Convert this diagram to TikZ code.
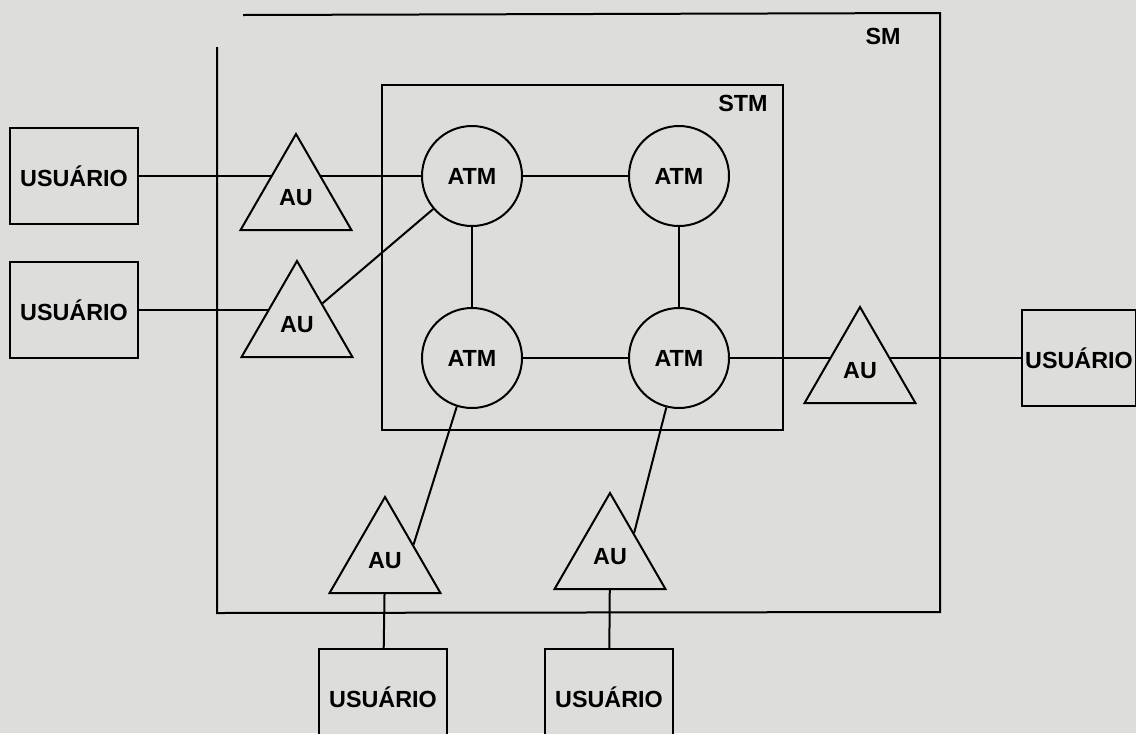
\documentclass[tikz,border=0pt]{standalone}
\usepackage{fontspec}
\setmainfont{Liberation Sans}
\usetikzlibrary{shapes.geometric, backgrounds}

\definecolor{papel}{RGB}{221,221,219}

\begin{document}
\begin{tikzpicture}[x=0.75pt, y=-0.75pt, line width=1.5pt,
    every node/.style={font=\fontsize{17.5}{20}\selectfont\bfseries},
    every on background layer/.style={line width=1.5pt},
    usuario/.style={draw, fill=papel, minimum width=96pt, minimum height=72pt, inner sep=0pt},
    atm/.style={draw, circle, fill=papel, minimum size=75pt, inner sep=0pt},
    au/.style={draw, regular polygon, regular polygon sides=3, fill=papel, minimum size=96pt, inner sep=0pt}]

        \useasboundingbox (0,0) rectangle (1136,733);
        \clip (0,0) rectangle (1136,733);

        % SM
        \draw (243,15) -- (940,13) -- (940,612) -- (217,613) -- (217,47);
        \node at (883,36) {SM};

        % STM
        \draw (382,85) rectangle (783,430);
        \node at (743,103) {STM};

        % Centrais ATM
        \foreach \n/\x/\y in {1/472/176, 2/679/176, 3/472/358, 4/679/358} {
            \node[atm] (atm\n) at (\x,\y) {ATM};
        }

        % Unidades AU
        \foreach \n/\x/\y in {1/296/198, 2/297/325, 3/860/371, 4/385/561, 5/610/557} {
            \node[au] (au\n) at (\x,\y) {AU};
        }

        % Usuários
        \node[usuario] (usr1) at (74,176) {USUÁRIO};
        \node[usuario] (usr2) at (74,310) {USUÁRIO};
        \node[usuario, minimum width=85.5pt] (usr3) at (1079,358) {USUÁRIO};
        \node[usuario] (usr4) at (383,697) {USUÁRIO};
        \node[usuario] (usr5) at (609,697) {USUÁRIO};

        % Ligações (atrás dos nós)
        \begin{scope}[on background layer]
            \fill[papel] (0,0) rectangle (1136,733);
            \draw (usr1.east) -- (atm1.west);
            \draw (usr2.east) -- (usr2.east -| au2.center);
            \draw (au2) -- (atm1);
            \draw (atm1) -- (atm2);
            \draw (atm1) -- (atm3);
            \draw (atm2) -- (atm4);
            \draw (atm3) -- (atm4);
            \draw (atm4.east) -- (usr3.west);
            \draw (atm3) -- (au4.30);
            \draw (atm4) -- (au5.45);
            \draw (au4) -- (usr4);
            \draw (au5) -- (usr5);
        \end{scope}

\end{tikzpicture}
\end{document}
